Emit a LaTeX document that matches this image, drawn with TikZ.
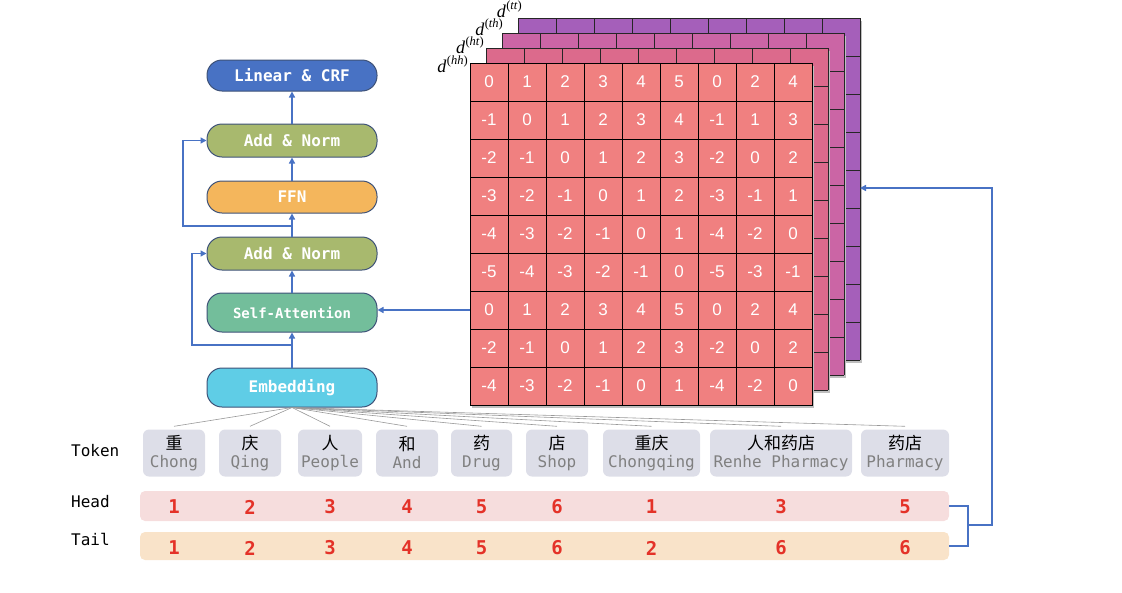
\documentclass[tikz,border=0pt]{standalone}
\usepackage{fontspec}
\setmonofont{DejaVu Sans Mono}
\setsansfont{Liberation Sans}
\newfontfamily\cjk{Noto Sans CJK SC}
\newfontfamily\dfont{Liberation Serif}
\usetikzlibrary{arrows.meta}
\definecolor{embc}{RGB}{95,205,230}
\definecolor{sac}{RGB}{115,190,155}
\definecolor{addc}{RGB}{168,185,110}
\definecolor{ffnc}{RGB}{244,182,92}
\definecolor{linc}{RGB}{72,114,196}
\definecolor{boxline}{RGB}{62,82,120}
\definecolor{linkc}{RGB}{72,114,196}
\definecolor{cellc}{RGB}{240,128,128}
\definecolor{htc}{RGB}{220,106,140}
\definecolor{thc}{RGB}{203,101,165}
\definecolor{ttc}{RGB}{165,95,186}
\definecolor{tokc}{RGB}{221,222,232}
\definecolor{wordc}{RGB}{128,128,128}
\definecolor{headc}{RGB}{246,221,221}
\definecolor{tailc}{RGB}{249,227,201}
\definecolor{numc}{RGB}{228,50,40}
\newcommand{\dname}[1]{{\fontsize{18}{20}\selectfont\itshape d}\kern0.5pt\raisebox{7.5pt}{\fontsize{12.5}{13}\selectfont(\textit{#1})}}
\begin{document}
\begin{tikzpicture}
  [x=1pt,y=-1pt,
   stack/.style={draw=boxline,line width=1pt,rounded corners=15pt,minimum width=170,
     text=white,font=\fontsize{16}{18}\selectfont\ttfamily\bfseries},
   link/.style={draw=linkc,line width=1.4pt},
   tip/.style={-{Triangle[length=6pt,width=6pt]}},
   cell/.style={draw=black,line width=1pt,fill=cellc,minimum size=38,inner sep=0,
     text=white,font=\sffamily\fontsize{17}{17}\selectfont},
   gridline/.style={draw=black!85,line width=1pt},
   dlab/.style={inner sep=0,font=\dfont},
   token/.style={fill=tokc,rounded corners=6pt,minimum height=47,inner sep=0,align=center,
     font=\fontsize{16}{19}\selectfont\ttfamily},
   fan/.style={draw=black!40,line width=0.6pt},
   rowlab/.style={anchor=west,inner sep=0,font=\fontsize{16}{18}\selectfont\ttfamily},
   bar/.style={rounded corners=5pt,minimum width=809,inner sep=0},
   num/.style={text=numc,font=\fontsize{19}{20}\selectfont\ttfamily\bfseries}]
  \useasboundingbox (0,0) rectangle (1122,592);

  % encoder stack
  \node (crf)[stack,fill=linc,minimum height=31] at (292,75.5) {Linear \& CRF};
  \node (addn2)[stack,fill=addc,minimum height=33] at (292,140.5) {Add \& Norm};
  \node (ffn)[stack,fill=ffnc,minimum height=32] at (292,197) {FFN};
  \node (addn1)[stack,fill=addc,minimum height=33] at (292,253.5) {Add \& Norm};
  \node (sa)[stack,fill=sac,minimum height=39,font=\fontsize{14}{16}\selectfont\ttfamily\bfseries] at (292,312.5) {Self-Attention};
  \node (emb)[stack,fill=embc,minimum height=39] at (292,387.5) {Embedding};

  \coordinate (r1) at (292,345);
  \coordinate (r2) at (292,226);
  \foreach \from/\to in {emb/sa,sa/addn1,addn1/ffn,ffn/addn2,addn2/crf}
    \draw[link,tip] (\from) -- (\to);
  \draw[link,tip] (r1) -- ++(-100,0) |- (addn1.west);
  \draw[link,tip] (r2) -- ++(-109,0) |- (addn2.west);

  % relative distance matrices
  \foreach \k/\col in {3/ttc,2/thc,1/htc} {
    \begin{scope}[shift={(470+16*\k,63-15*\k)}]
      \fill[black!25] (2,3) rectangle (344,345);
      \fill[\col] (0,0) rectangle (342,342);
      \foreach \i in {0,...,9}
        \draw[gridline] (38*\i,0) -- (38*\i,342) (0,38*\i) -- (342,38*\i);
    \end{scope}
  }
  \fill[black!25] (472,66) rectangle (814,408);
  \foreach \vals [count=\r] in {{0,1,2,3,4,5,0,2,4},{-1,0,1,2,3,4,-1,1,3},
      {-2,-1,0,1,2,3,-2,0,2},{-3,-2,-1,0,1,2,-3,-1,1},{-4,-3,-2,-1,0,1,-4,-2,0},
      {-5,-4,-3,-2,-1,0,-5,-3,-1},{0,1,2,3,4,5,0,2,4},{-2,-1,0,1,2,3,-2,0,2},
      {-4,-3,-2,-1,0,1,-4,-2,0}}
    \foreach \v [count=\c] in \vals
      \node (m-\r-\c)[cell] at ({470+38*(\c-0.5)},{63+38*(\r-0.5)}) {\v};

  \node (dhh)[dlab,anchor=base east] at (468,72) {\dname{hh}};
  \node (dht)[dlab,anchor=base east] at (484,53) {\dname{ht}};
  \node (dth)[dlab,anchor=base east] at (503,35) {\dname{th}};
  \node (dtt)[dlab,anchor=base east] at (522,17) {\dname{tt}};

  \draw[link,tip] (m-7-1.west) -- (m-7-1.west -| sa.east);

  % tokens
  \node (toklab)[rowlab] at (71,451) {Token};
  \node (headlab)[rowlab] at (71,502) {Head};
  \node (taillab)[rowlab] at (71,539) {Tail};
  \foreach \x/\w/\zh/\en [count=\i] in {174/62/重/Chong,250/62/庆/Qing,330/64/人/People,
      407/62/和/And,481.5/61/药/Drug,557/62/店/Shop,651.5/97/重庆/Chongqing,
      781/142/人和药店/Renhe Pharmacy,905/88/药店/Pharmacy}
    \node (tok\i)[token,minimum width=\w] at (\x,453) {{\cjk\fontsize{17}{19}\selectfont \zh}\\[-1pt]{\color{wordc}\en}};
  \foreach \i in {1,...,9}
    \draw[fan] (emb.south) -- ([yshift=3pt]tok\i.north);

  % head and tail ids
  \node (head)[bar,fill=headc,minimum height=30] at (544.5,506) {};
  \node (tail)[bar,fill=tailc,minimum height=28] at (544.5,546) {};
  \foreach \x/\h/\t [count=\i] in {174/1/1,250/2/2,330/3/3,407/4/4,481.5/5/5,557/6/6,
      651.5/1/2,781/3/6,905/5/6} {
    \node (h\i)[num] at (\x,507) {\h};
    \node (t\i)[num] at (\x,548) {\t};
  }
  \coordinate (join) at (968,525);
  \coordinate (ttedge) at (860,188);
  \draw[link] (head.east) -| (join) |- (tail.east);
  \draw[link,tip] (join) -- ++(24,0) |- (ttedge);
\end{tikzpicture}
\end{document}
